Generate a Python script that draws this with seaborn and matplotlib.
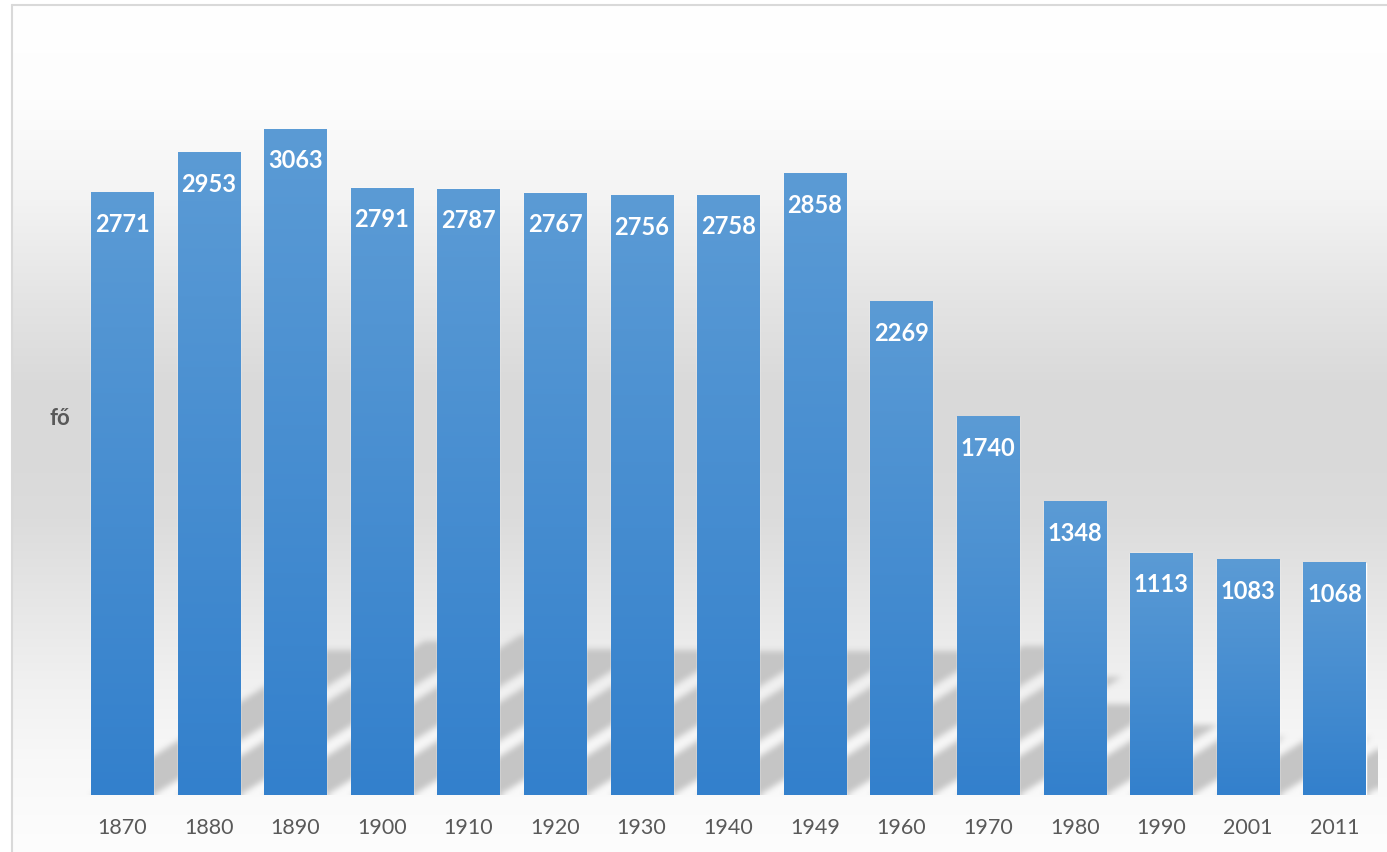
import numpy as np
import matplotlib
matplotlib.use("Agg")
import matplotlib.pyplot as plt
import seaborn as sns
from matplotlib.colors import LinearSegmentedColormap

years = ["1870", "1880", "1890", "1900", "1910", "1920", "1930", "1940",
         "1949", "1960", "1970", "1980", "1990", "2001", "2011"]
population = [2771, 2953, 3063, 2791, 2787, 2767, 2756, 2758,
              2858, 2269, 1740, 1348, 1113, 1083, 1068]
y_label = "fő"

W, H, DPI = 1387, 853, 100
sns.set_theme(style="white")
plt.rcParams['font.family'] = ['Lato', 'DejaVu Sans']

fig = plt.figure(figsize=(W / DPI, H / DPI), dpi=DPI)
fig.patch.set_facecolor('white')

# ---- chart-area background gradient + frame ----
bg = fig.add_axes([0, 0, 1, 1], zorder=-10)
bg.set_axis_off()
ys = np.arange(H)
stops_y = [0, 6, 100, 200, 300, 380, 450, 520, 600, 680, 760, 853]
stops_v = [255, 255, 253, 243, 228, 218, 217, 220, 230, 240, 248, 253]
vals = np.interp(ys, stops_y, stops_v) / 255
img = np.ones((H, W, 3))
img[:, :, :] = vals[:, None, None]
left_edge, top_edge = 12, 6
img[:top_edge, :, :] = 1
img[:, :left_edge, :] = 1
bg.imshow(img, extent=[0, W, H, 0], aspect='auto', interpolation='nearest')
bg.plot([left_edge, left_edge], [top_edge, H], color='#d9d9d9', lw=1.5)
bg.plot([left_edge, W], [top_edge, top_edge], color='#d9d9d9', lw=1.5)
bg.set_xlim(0, W)
bg.set_ylim(H, 0)

# ---- main axes ----
ax = fig.add_axes([78.7 / W, (H - 796) / H, (1377.8 - 78.7) / W, (796 - 35) / H])
ax.set_facecolor('none')
sns.barplot(x=years, y=population, color='#4a8fd2', width=0.716,
            saturation=1, ax=ax, zorder=3)

# ---- perspective shadows of the bars ----
pos = ax.get_position()
axw = pos.width * W
axh = pos.height * H
sx = axw / 15.0
sy = axh / 3500.0
Hs = 230
nx = int(round(axw))
X, Y = np.meshgrid(np.arange(nx) + 0.5, np.arange(Hs) + 0.5)
mask = np.zeros((Hs, nx))
for p in ax.patches:
    x0 = (p.get_x() + 0.5) * sx
    x1 = x0 + p.get_width() * sx
    hpx = p.get_height() * sy * 0.24
    cond = (Y <= hpx) & (X >= x0 + 1.6 * Y) & (X <= x1 + 1.6 * Y)
    mask[cond] = 1.0


def box_blur(a, r, axis):
    k = np.ones(2 * r + 1) / (2 * r + 1)
    return np.apply_along_axis(lambda m: np.convolve(np.pad(m, r, mode='edge'), k, mode='valid'), axis, a)


for _ in range(2):
    mask = box_blur(mask, 3, 0)
    mask = box_blur(mask, 3, 1)

shadow = np.zeros((Hs, nx, 4))
shadow[..., :3] = 197 / 255
shadow[..., 3] = np.clip(mask, 0, 1)
ax.imshow(shadow, extent=[-0.5, -0.5 + nx / sx, 0, Hs / sy], origin='lower',
          aspect='auto', zorder=1, interpolation='bilinear')

# ---- gradient fill of bars ----
bar_cmap = LinearSegmentedColormap.from_list('bar', ['#3380cc', '#5b9bd5'])
grad = np.linspace(0, 1, 256)[:, None]
for p in ax.patches:
    ax.imshow(grad, extent=[p.get_x(), p.get_x() + p.get_width(), 0, p.get_height()],
              origin='lower', cmap=bar_cmap, aspect='auto', zorder=3.5,
              interpolation='bilinear')

# ---- value labels ----
for p, v in zip(ax.patches, population):
    ax.annotate(str(v), xy=(p.get_x() + p.get_width() / 2, v), xytext=(0, -27.4),
                textcoords='offset points', ha='center', va='baseline',
                color='white', fontsize=17, fontweight='bold', zorder=5)

ax.set_xlim(-0.5, 14.5)
ax.set_ylim(0, 3500)
ax.set_yticks([])
ax.set_xlabel('')
ax.set_ylabel('')
for s in ax.spines.values():
    s.set_visible(False)
ax.tick_params(axis='x', length=0, pad=16, labelsize=15.5, labelcolor='#595959')
ax.grid(False)

fig.text(60 / W, 1 - 425 / H, y_label, ha='center', va='baseline',
         fontsize=16, fontweight='bold', color='#595959')

fig.savefig('out.png', dpi=DPI)
